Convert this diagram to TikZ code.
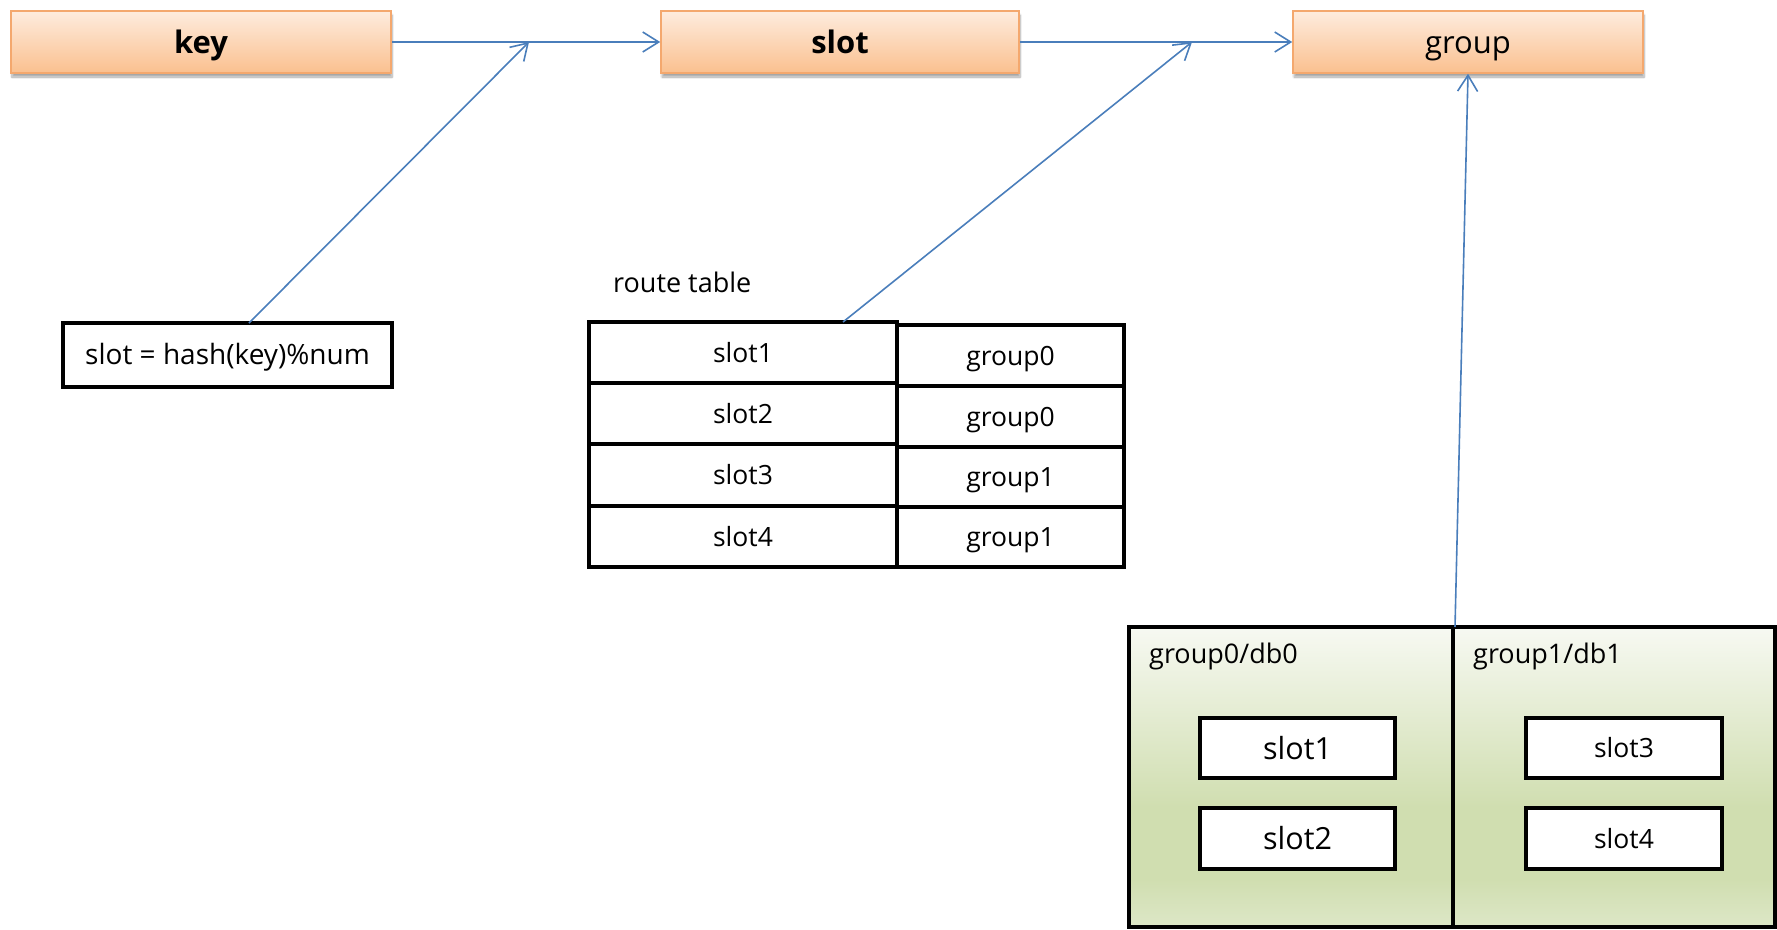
\documentclass[tikz,border=0pt]{standalone}
\usepackage{fontspec}
\setmainfont{Open Sans}
\usetikzlibrary{arrows.meta,shadows.blur}

\definecolor{linkblue}{RGB}{74,126,187}
\definecolor{orTop}{RGB}{254,236,222}
\definecolor{orBot}{RGB}{250,192,143}
\definecolor{orEdge}{RGB}{244,168,110}
\definecolor{gnTop}{RGB}{247,249,242}
\definecolor{gnMid}{RGB}{208,222,176}
\definecolor{gnBot}{RGB}{221,231,199}

% soft green fill of the two database panels, lightest at the top
\pgfdeclareverticalshading{dbshade}{100bp}{%
  color(0bp)=(gnBot); color(25bp)=(gnBot); color(33bp)=(gnMid);
  color(45bp)=(gnMid); color(75bp)=(gnTop); color(100bp)=(gnTop)}

\tikzset{
  % fixed text boxes so every label sits on the same baseline offset
  smallline/.style={text height=21pt, text depth=2pt},
  bigline/.style={text height=24pt, text depth=2pt},
  head/.style={draw=orEdge, line width=1.6pt, top color=orTop, bottom color=orBot,
    minimum height=62pt, inner sep=0pt, font=\fontsize{31}{36}\selectfont, bigline,
    blur shadow={shadow xshift=1pt, shadow yshift=-4pt, shadow blur steps=8, shadow opacity=35}},
  cell/.style={draw=black, line width=4pt, fill=white, inner sep=0pt, smallline,
    font=\fontsize{26.5}{30}\selectfont},
  bigcell/.style={cell, bigline, font=\fontsize{30.5}{34}\selectfont},
  panel/.style={draw=black, line width=4pt, shading=dbshade, inner sep=0pt},
  plain/.style={inner sep=0pt, font=\fontsize{27}{30}\selectfont},
  link/.style={draw=linkblue, line width=1.6pt,
    -{Straight Barb[length=16pt, width=20pt, line width=1.6pt]}},
}

\begin{document}
\begin{tikzpicture}[x=1pt, y=-1pt]
\useasboundingbox (0,0) rectangle (1777,929);

% pipeline headers
\node[head, minimum width=380pt] (key)  at (201,42)  {\bfseries key};
\node[head, minimum width=358pt] (slot) at (840,42)  {\bfseries slot};
\node[head, minimum width=350pt] (grp)  at (1468,42) {group};

% hashing rule
\node[cell, minimum width=329pt, minimum height=64pt, text height=20pt,
      font=\fontsize{28}{30}\selectfont] (hash) at (227.5,355) {slot = hash(key)\%num};

% route table
\node[plain, anchor=base west] (rtlabel) at (613,292) {route table};
\node[cell, minimum width=308pt, minimum height=61pt] (s1) at (743,352.5) {slot1};
\node[cell, minimum width=308pt, minimum height=61pt] (s2) at (743,413.5) {slot2};
\node[cell, minimum width=308pt, minimum height=62pt] (s3) at (743,475)   {slot3};
\node[cell, minimum width=308pt, minimum height=61pt] (s4) at (743,536.5) {slot4};
\node[cell, minimum width=227pt, minimum height=61pt] (g1) at (1010.5,355.5) {group0};
\node[cell, minimum width=227pt, minimum height=61pt] (g2) at (1010.5,416.5) {group0};
\node[cell, minimum width=227pt, minimum height=60pt] (g3) at (1010.5,477)   {group1};
\node[cell, minimum width=227pt, minimum height=60pt] (g4) at (1010.5,537)   {group1};

% database groups
\node[panel, minimum width=324pt, minimum height=300pt] (db0) at (1291,777) {};
\node[panel, minimum width=322pt, minimum height=300pt] (db1) at (1614,777) {};
\node[plain, anchor=base west] (db0label) at (1149,663) {group0/db0};
\node[plain, anchor=base west] (db1label) at (1473,663) {group1/db1};
\node[bigcell, minimum width=195pt, minimum height=60pt] (d1) at (1297.5,748) {slot1};
\node[bigcell, minimum width=195pt, minimum height=61pt] (d2) at (1297.5,838.5) {slot2};
\node[cell, minimum width=196pt, minimum height=60pt] (d3) at (1624,748) {slot3};
\node[cell, minimum width=196pt, minimum height=61pt] (d4) at (1624,838.5) {slot4};

% connector anchors
\coordinate (hashtop)  at (249,323);
\coordinate (keyjoin)  at (529,42);
\coordinate (tabletop) at (843,322);
\coordinate (slotjoin) at (1192,42);
\coordinate (dbtop)    at (1455,627);

% connectors
\draw[link] (key.east) -- (slot.west);
\draw[link] (slot.east) -- (grp.west);
\draw[link] (hashtop) -- (keyjoin);
\draw[link] (tabletop) -- (slotjoin);
\draw[link] (dbtop) -- (grp.south);
\end{tikzpicture}
\end{document}
